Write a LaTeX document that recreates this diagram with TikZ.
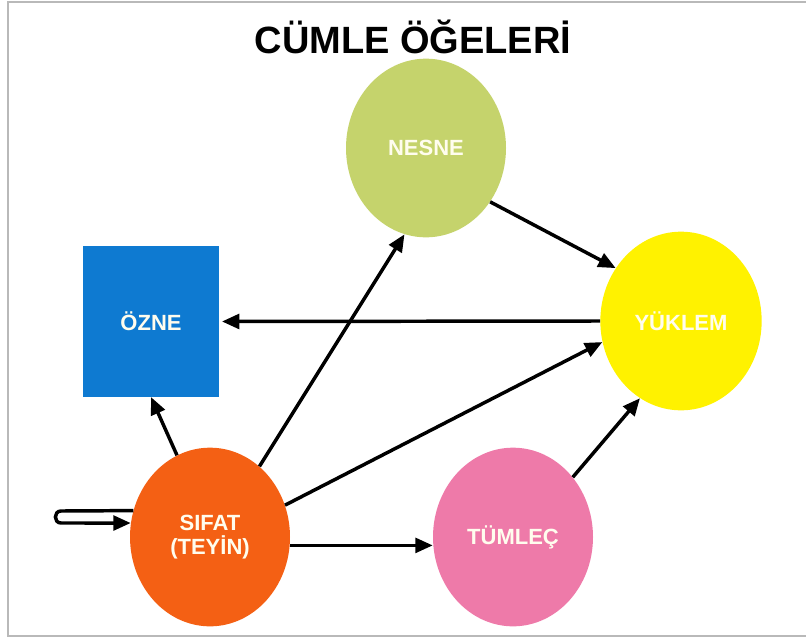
\documentclass[tikz,border=0pt]{standalone}
\usepackage{fontspec}
\setmainfont{Liberation Sans}
\usetikzlibrary{shapes.geometric,arrows.meta}
\definecolor{nesnegreen}{HTML}{C5D36C}
\definecolor{yuklemyellow}{HTML}{FFF200}
\definecolor{sifatorange}{HTML}{F46014}
\definecolor{tumlecpink}{HTML}{EE7AA9}
\definecolor{ozneblue}{HTML}{0E7AD1}
\definecolor{labelwhite}{HTML}{FFFDEE}
\begin{document}
\begin{tikzpicture}[x=0.75pt, y=-0.75pt,
    part/.style={ellipse, minimum width=120pt, minimum height=134pt, inner sep=0pt,
        font=\bfseries\fontsize{16.5}{18}\selectfont, text=labelwhite, align=center},
    arr/.style={line width=2.6pt, -{Triangle[length=13pt,width=11pt]}}]
    \useasboundingbox (0,0) rectangle (806,639);
    % Frame
    \draw[gray!55, line width=1.2pt] (806,2) -- (8,2) -- (8,636) -- (806,636);

    % Title
    \node[font=\bfseries\fontsize{28.5}{30}\selectfont, anchor=base] (title) at (413,53) {CÜMLE ÖĞELERİ};

    % Sentence elements
    \node[part, fill=nesnegreen] (nesne) at (426,148) {NESNE};
    \node[part, fill=yuklemyellow, minimum width=121pt] (yuklem) at (681,321) {YÜKLEM};
    \node[part, fill=sifatorange] (sifat) at (210,537) {SIFAT\\(TEYİN)};
    \node[part, fill=tumlecpink] (tumlec) at (513,537) {TÜMLEÇ};
    \node[rectangle, fill=ozneblue, minimum width=102pt, minimum height=113pt, inner sep=0pt,
        font=\bfseries\fontsize{16.5}{18}\selectfont, text=labelwhite] (ozne) at (151,321.5) {ÖZNE};

    % Connections
    \draw[arr] (nesne.-40) -- (yuklem.141);
    \draw[arr, shorten >=2pt] (yuklem.west) -- (ozne.east);
    \draw[arr] (sifat.112) -- (ozne.south);
    \draw[arr] (sifat.55) -- (nesne.256);
    \draw[arr] (sifat.23) -- (yuklem.195);
    \draw[arr] (sifat.-6) -- (sifat.-6 -| tumlec.west);
    \draw[arr] (tumlec.45) -- (yuklem.242);

    % Loop into SIFAT
    \coordinate (loopa) at (61,511);
    \coordinate (loopb) at (61,523);
    \draw[arr] (sifat.161) -- (loopa) to[out=180, in=180, looseness=1.6] (loopb) -- (sifat.170);
\end{tikzpicture}
\end{document}
